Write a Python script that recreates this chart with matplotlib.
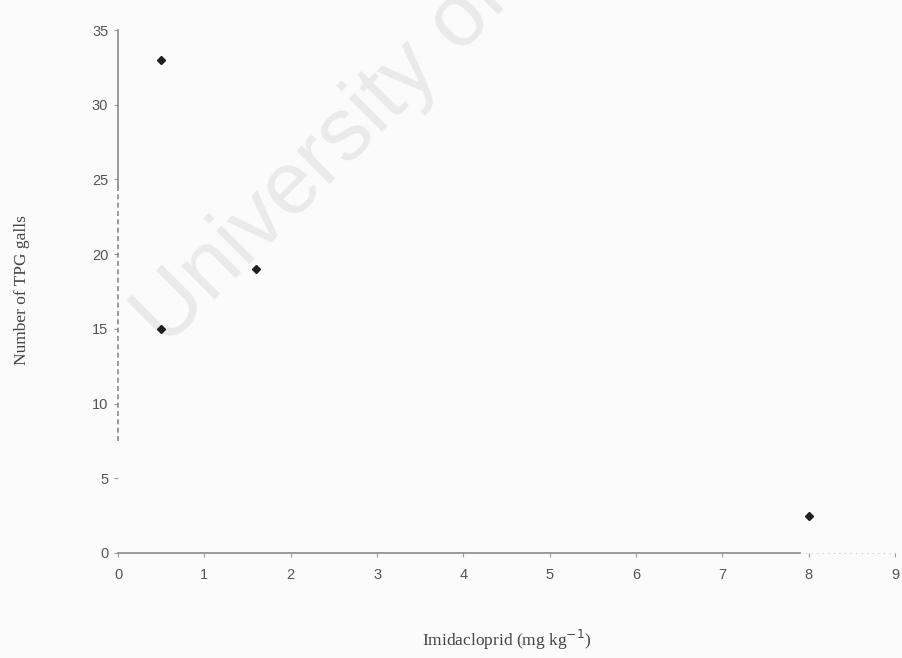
import matplotlib
matplotlib.use("Agg")
import matplotlib.pyplot as plt

# Imidacloprid dose vs gall counts
dose = [0.5, 0.5, 1.6, 8.0]
galls = [33, 15, 19, 2.5]

x_ticks = [0, 1, 2, 3, 4, 5, 6, 7, 8, 9]
y_ticks = [0, 5, 10, 15, 20, 25, 30, 35]

fig = plt.figure(figsize=(9.03, 6.58), dpi=100)
fig.patch.set_facecolor("#fbfbfb")

# background watermark, kept beneath the axes
fig.text(0.183, 0.470, "University of Cape Town", rotation=45,
         rotation_mode="anchor", ha="left", va="baseline",
         fontsize=64, color="#eaeaea", family="Liberation Sans", zorder=-1)

ax = fig.add_axes([0.1307, 0.1596, 0.8605, 0.7948])
ax.set_facecolor("none")
ax.set_xlim(0, 9)
ax.set_ylim(0, 35)

for s in ["top", "right", "left", "bottom"]:
    ax.spines[s].set_visible(False)

axis_col = "#8a8a8a"
# vertical axis: solid top part, broken lower part
ax.plot([0, 0], [24.5, 35], color=axis_col, lw=1.2, clip_on=False)
ax.plot([0, 0], [7.5, 24.5], color=axis_col, lw=1.2, ls=(0, (3, 2)), clip_on=False)
# horizontal axis: solid up to 8, faint dotted beyond
ax.plot([0, 7.9], [0, 0], color=axis_col, lw=1.2, clip_on=False)
ax.plot([7.9, 9], [0, 0], color="#c8c8c8", lw=0.8, ls=(0, (1, 4)), clip_on=False)

ax.set_xticks(x_ticks)
ax.set_yticks(y_ticks)
ax.tick_params(axis="both", direction="out", length=3, width=0.8,
               color="#9a9a9a", labelcolor="#555555", labelsize=10.5)
ax.tick_params(axis="x", pad=8)
ax.tick_params(axis="y", pad=4)
for lab in ax.get_xticklabels() + ax.get_yticklabels():
    lab.set_family("Liberation Sans")

ax.plot(dose, galls, linestyle="none", marker="D", markersize=4.5,
        color="#1e1e1e", zorder=5, clip_on=False)

ax.set_xlabel("Imidacloprid (mg kg$^{-1}$)", family="Liberation Serif",
              fontsize=12.5, color="#444444", labelpad=33)
ax.set_ylabel("Number of TPG galls", family="Liberation Serif",
              fontsize=12.5, color="#444444", va="center")
ax.yaxis.set_label_coords(-0.124, 0.503)

fig.savefig("out.png", dpi=100, facecolor=fig.get_facecolor())
